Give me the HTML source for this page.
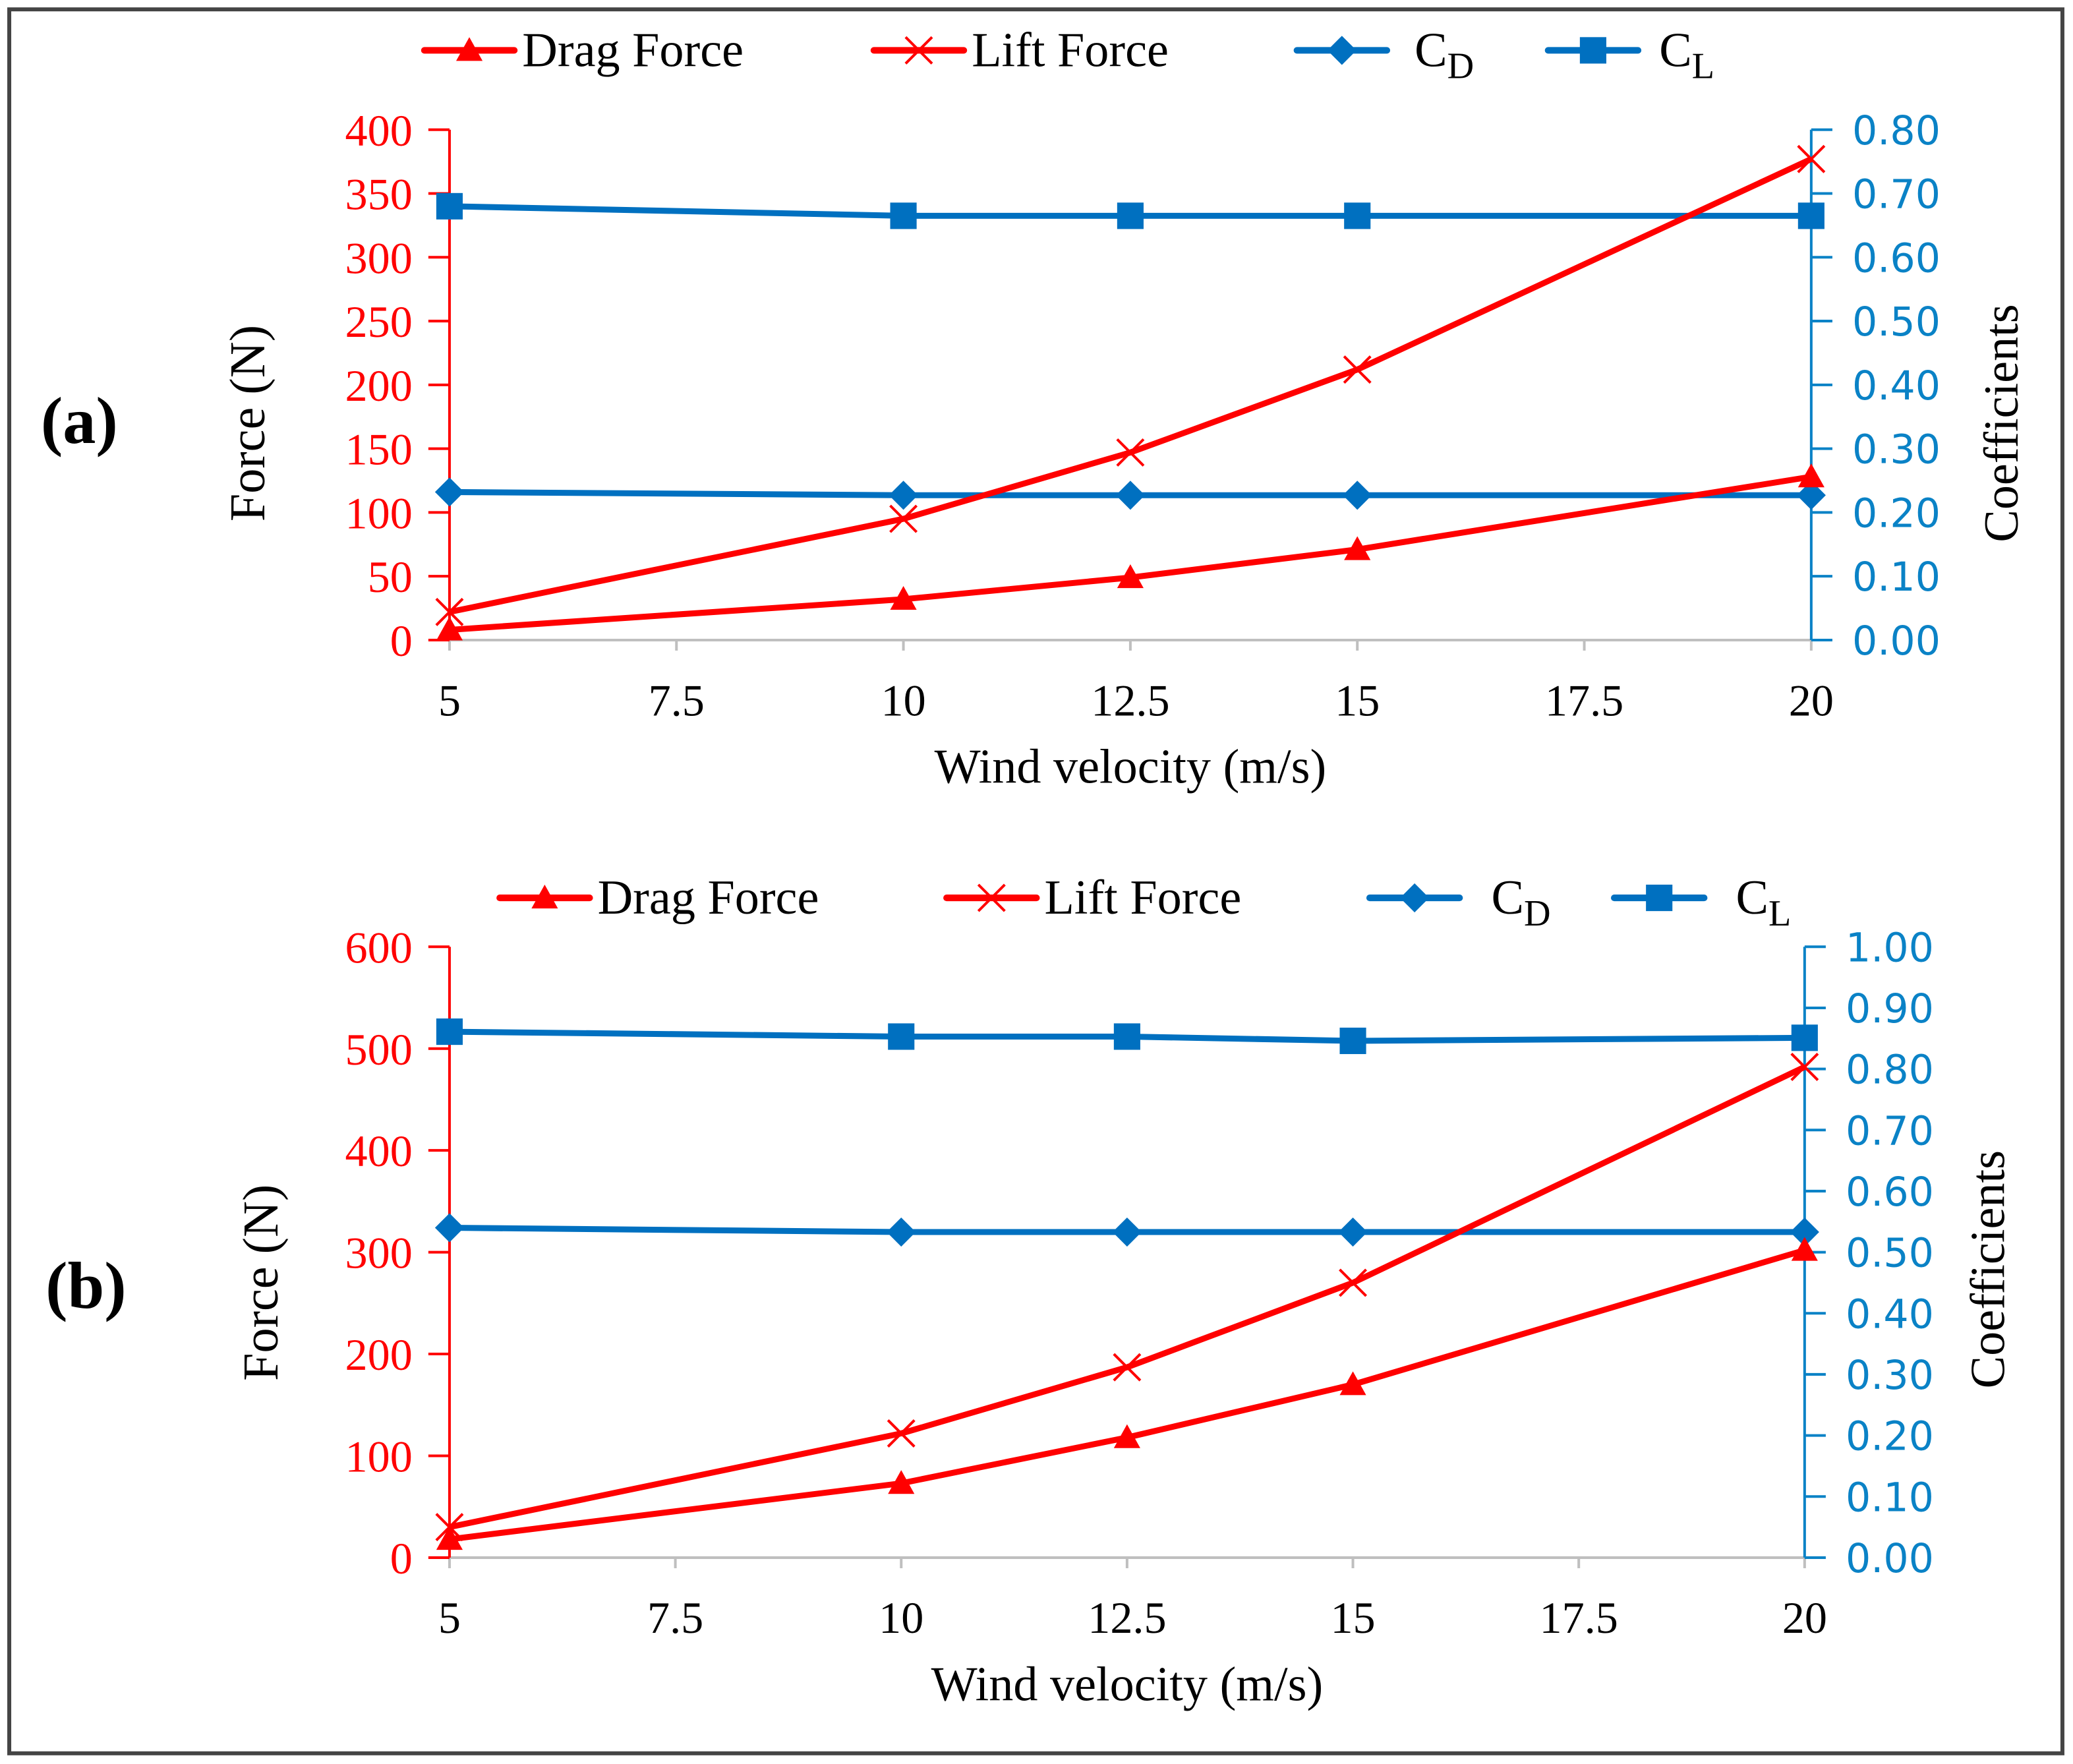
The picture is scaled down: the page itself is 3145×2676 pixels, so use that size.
<!DOCTYPE html>
<html><head><meta charset="utf-8"><style>
html,body{margin:0;padding:0;background:#fff;}
svg{display:block;}
text{font-family:"Liberation Serif",serif;}
</style></head><body>
<svg id="fig" width="3145" height="2676" viewBox="0 0 1568 1334" xmlns="http://www.w3.org/2000/svg">
<rect x="7" y="7" width="1553" height="1319" fill="#fff" stroke="#444" stroke-width="3"/>
<g id="pa"></g>
<g id="pb"></g>
</svg>
<script>
// x categories (wind velocity)
const windVel = [5, 10, 12.5, 15, 20];
const xTicks = [5, 7.5, 10, 12.5, 15, 17.5, 20];
const xTickLabels = ["5","7.5","10","12.5","15","17.5","20"];
// Panel (a)
const dragA = [8, 32, 49, 71, 128];
const liftA = [22, 95, 147, 212, 377];
const cdA = [0.232, 0.227, 0.227, 0.227, 0.227];
const clA = [0.680, 0.665, 0.665, 0.665, 0.665];
const leftTicksA = [0, 50, 100, 150, 200, 250, 300, 350, 400];
const rightTicksA = [0, 0.1, 0.2, 0.3, 0.4, 0.5, 0.6, 0.7, 0.8];
// Panel (b)
const dragB = [18, 73, 118, 170, 302];
const liftB = [30, 122, 187, 270, 482];
const cdB = [0.540, 0.533, 0.533, 0.533, 0.533];
const clB = [0.861, 0.853, 0.853, 0.846, 0.851];
const leftTicksB = [0, 100, 200, 300, 400, 500, 600];
const rightTicksB = [0, 0.1, 0.2, 0.3, 0.4, 0.5, 0.6, 0.7, 0.8, 0.9, 1.0];

const NS = "http://www.w3.org/2000/svg";
const RED = "#ff0000", BLUE = "#0070c0", AXB = "#0a82c6";
function mk(parent, tag, attrs, txt) {
  const e = document.createElementNS(NS, tag);
  for (const k in attrs) e.setAttribute(k, attrs[k]);
  if (txt !== undefined) e.textContent = txt;
  parent.appendChild(e);
  return e;
}
function marker(g, type, x, y, color) {
  let e;
  if (type === "tri") e = mk(g, "polygon", {points: `${x},${y-10} ${x-10},${y+8} ${x+10},${y+8}`, fill: color});
  else if (type === "x") e = mk(g, "path", {d: `M${x-10},${y-10}L${x+10},${y+10}M${x-10},${y+10}L${x+10},${y-10}`, stroke: color, "stroke-width": 2, fill: "none"});
  else if (type === "dia") e = mk(g, "polygon", {points: `${x},${y-11} ${x+11},${y} ${x},${y+11} ${x-11},${y}`, fill: color});
  else e = mk(g, "rect", {x: x-10, y: y-10, width: 20, height: 20, fill: color});
  return e;
}
function panel(g, c) {
  const X = v => c.x0 + (v - 5) / 15 * (c.x1 - c.x0);
  const YL = v => c.yb - v / c.lmax * (c.yb - c.yt);
  const YR = v => c.yb - v / c.rmax * (c.yb - c.yt);
  const xa = mk(g, "line", {x1: c.x0, y1: c.yb, x2: c.x1, y2: c.yb, stroke: "#bfbfbf", "stroke-width": 2});
  
  
  xTicks.forEach((t, i) => {
    mk(g, "line", {x1: X(t), y1: c.yb, x2: X(t), y2: c.yb + 8, stroke: "#bfbfbf", "stroke-width": 2});
    const tl = mk(g, "text", {x: X(t), y: c.yb + 57, "text-anchor": "middle", "font-size": 34, fill: "#000"}, xTickLabels[i]);
    
    
  });
  const la = mk(g, "line", {x1: c.x0, y1: c.yt, x2: c.x0, y2: c.yb, stroke: RED, "stroke-width": 2});
  
  
  c.lt.forEach(t => {
    mk(g, "line", {x1: c.x0 - 16, y1: YL(t), x2: c.x0, y2: YL(t), stroke: RED, "stroke-width": 2});
    const tl = mk(g, "text", {x: c.x0 - 28, y: YL(t) + 12, "text-anchor": "end", "font-size": 34, fill: RED}, String(t));
    
    
  });
  const ra = mk(g, "line", {x1: c.x1, y1: c.yt, x2: c.x1, y2: c.yb, stroke: AXB, "stroke-width": 2});
  
  
  c.rt.forEach(t => {
    mk(g, "line", {x1: c.x1, y1: YR(t), x2: c.x1 + 16, y2: YR(t), stroke: AXB, "stroke-width": 2});
    const tl = mk(g, "text", {x: c.x1 + 31, y: YR(t) + 11, "font-size": 30, fill: AXB, style: 'font-family:"DejaVu Sans",sans-serif'}, t.toFixed(2));
    
    
  });
  const series = [
    {d: c.cl, y: YR, col: BLUE, m: "sq", n: "cl-series"},
    {d: c.cd, y: YR, col: BLUE, m: "dia", n: "cd-series"},
    {d: c.lift, y: YL, col: RED, m: "x", n: "lift-force-series"},
    {d: c.drag, y: YL, col: RED, m: "tri", n: "drag-force-series"}
  ];
  series.forEach(s => {
    const sg = mk(g, "g", {});
    
    
    const pts = s.d.map((v, i) => X(windVel[i]) + "," + s.y(v)).join(" ");
    mk(sg, "polyline", {points: pts, fill: "none", stroke: s.col, "stroke-width": 4.5, "stroke-linejoin": "round"});
    s.d.forEach((v, i) => {
      const m = marker(sg, s.m, X(windVel[i]), s.y(v), s.col);
      
      
    });
  });
  const xt = mk(g, "text", {x: (c.x0 + c.x1) / 2, y: c.yb + 108, "text-anchor": "middle", "font-size": 37}, "Wind velocity (m/s)");
  
  
  const lt = mk(g, "text", {x: 0, y: 0, "text-anchor": "middle", "font-size": 38, transform: `translate(${c.lx},${c.ly}) rotate(-90)`}, "Force  (N)");
  
  
  const rt = mk(g, "text", {x: 0, y: 0, "text-anchor": "middle", "font-size": 37, transform: `translate(${c.rx},${c.ry}) rotate(-90)`}, "Coefficients");
  
  
  const pl = mk(g, "text", {x: c.px, y: c.py, "font-size": 50, "font-weight": "bold", "text-anchor": "middle"}, c.label);
  
  
  const L = c.leg;
  const items = [
    {m: "tri", col: RED, t: "Drag Force", n: "legend-drag-force"},
    {m: "x", col: RED, t: "Lift Force", n: "legend-lift-force"},
    {m: "dia", col: BLUE, t: "C", sub: "D", n: "legend-cd"},
    {m: "sq", col: BLUE, t: "C", sub: "L", n: "legend-cl"}
  ];
  items.forEach((it, i) => {
    const lg = mk(g, "g", {});
    
    
    const mx = L.mx[i];
    mk(lg, "line", {x1: mx - 34, y1: L.y, x2: mx + 34, y2: L.y, stroke: it.col, "stroke-width": 5, "stroke-linecap": "round"});
    marker(lg, it.m, mx, L.y, it.col);
    const tx = mk(lg, "text", {x: L.tx[i], y: L.y + 12, "font-size": 37}, it.t);
    if (it.sub) mk(tx, "tspan", {dy: 9, "font-size": 28}, it.sub);
  });
}
panel(document.getElementById("pa"), {
  x0: 340, x1: 1370, yt: 98, yb: 484, lmax: 400, rmax: 0.8,
  lt: leftTicksA, rt: rightTicksA, drag: dragA, lift: liftA, cd: cdA, cl: clA,
  lx: 200, ly: 320, rx: 1526, ry: 320, px: 60, py: 335, label: "(a)",
  leg: {y: 38, mx: [355, 695, 1015, 1205], tx: [395, 735, 1070, 1255]}
});
panel(document.getElementById("pb"), {
  x0: 340, x1: 1365, yt: 716, yb: 1178, lmax: 600, rmax: 1.0,
  lt: leftTicksB, rt: rightTicksB, drag: dragB, lift: liftB, cd: cdB, cl: clB,
  lx: 210, ly: 970, rx: 1516, ry: 960, px: 65, py: 989, label: "(b)",
  leg: {y: 679, mx: [412, 750, 1070, 1255], tx: [452, 790, 1128, 1313]}
});
</script>
</body></html>
